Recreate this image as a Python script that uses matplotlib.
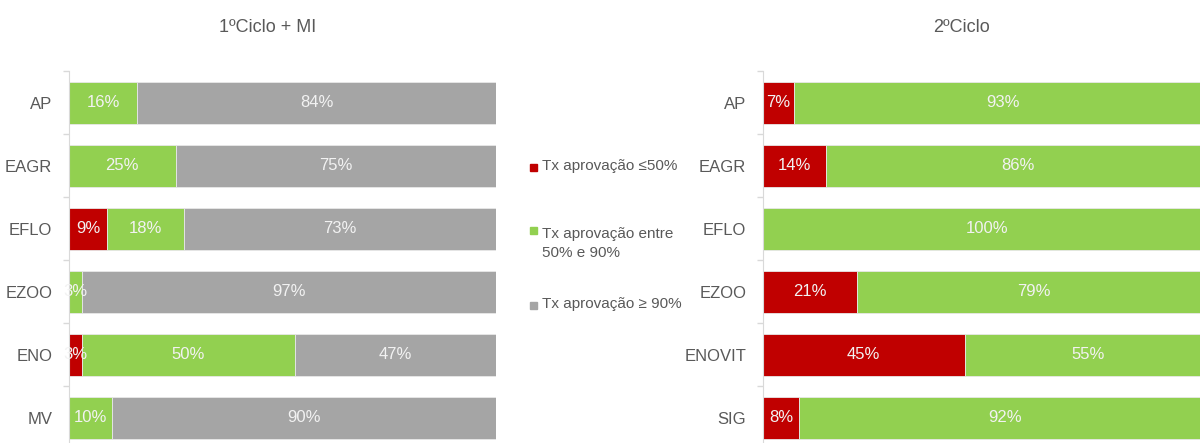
import numpy as np
import matplotlib
matplotlib.use("Agg")
import matplotlib.pyplot as plt
from matplotlib.patches import Rectangle

plt.rcParams['font.family'] = ['Liberation Sans', 'DejaVu Sans']

# data
cats_1 = ['AP', 'EAGR', 'EFLO', 'EZOO', 'ENO', 'MV']
red_1 = [0, 0, 9, 0, 3, 0]
green_1 = [16, 25, 18, 3, 50, 10]
gray_1 = [84, 75, 73, 97, 47, 90]

cats_2 = ['AP', 'EAGR', 'EFLO', 'EZOO', 'ENOVIT', 'SIG']
red_2 = [7, 14, 0, 21, 45, 8]
green_2 = [93, 86, 100, 79, 55, 92]

title_1 = '1ºCiclo + MI'
title_2 = '2ºCiclo'
legend_labels = ['Tx aprovação ≤50%', 'Tx aprovação entre\n50% e 90%', 'Tx aprovação ≥ 90%']

RED = '#C00000'
GREEN = '#92D050'
GRAY = '#A5A5A5'
TXT = '#595959'

W, H = 1200, 443
fig = plt.figure(figsize=(W / 100, H / 100), dpi=100)


def px(x0, x1, ytop, ybot):
    return [x0 / W, 1 - ybot / H, (x1 - x0) / W, (ybot - ytop) / H]


def stacked(ax, cats, series, colors):
    y = np.arange(len(cats))
    left = np.zeros(len(cats))
    for vals, col in zip(series, colors):
        vals = np.array(vals, dtype=float)
        bars = ax.barh(y, vals, left=left, height=0.67, color=col,
                       edgecolor='#E8E8E8', linewidth=0.6)
        for b, v in zip(bars, vals):
            if v > 0:
                ax.text(b.get_x() + b.get_width() / 2, b.get_y() + b.get_height() / 2,
                        f'{int(v)}%', ha='center', va='center', color='#F2F2F2',
                        fontsize=12)
        left += vals
    ax.set_xlim(0, 100)
    ax.set_ylim(len(cats) - 0.5, -0.5)
    ax.set_yticks(y)
    ax.set_yticklabels(cats, fontsize=12, color=TXT)
    ax.set_yticks(np.arange(-0.5, len(cats) + 0.5, 1), minor=True)
    ax.tick_params(axis='y', which='major', length=0, pad=12)
    ax.tick_params(axis='y', which='minor', length=4, color='#D9D9D9', width=1)
    ax.set_xticks([])
    for s in ['top', 'right', 'bottom']:
        ax.spines[s].set_visible(False)
    ax.spines['left'].set_color('#D9D9D9')
    ax.patch.set_visible(False)


ax1 = fig.add_axes(px(69, 496, 71.5, 449.5))
stacked(ax1, cats_1, [red_1, green_1, gray_1], [RED, GREEN, GRAY])

ax2 = fig.add_axes(px(763, 1211, 71.5, 449.5))
stacked(ax2, cats_2, [red_2, green_2], [RED, GREEN])

fig.text(268 / W, 1 - 27 / H, title_1, ha='center', va='center', fontsize=13, color=TXT)
fig.text(962 / W, 1 - 27 / H, title_2, ha='center', va='center', fontsize=13, color=TXT)

# legend (drawn by hand to keep the uneven spacing of the original)
leg_marker_y = [167, 230, 305]
leg_text_top = [159, 227, 297]
for lab, col, my, ty in zip(legend_labels, [RED, GREEN, GRAY], leg_marker_y, leg_text_top):
    fig.add_artist(Rectangle((530 / W, 1 - (my + 3.5) / H), 7 / W, 7 / H,
                             transform=fig.transFigure, color=col))
    fig.text(542 / W, 1 - ty / H, lab, ha='left', va='top', fontsize=11,
             color=TXT, linespacing=1.45)

fig.savefig('out.png', dpi=100)
